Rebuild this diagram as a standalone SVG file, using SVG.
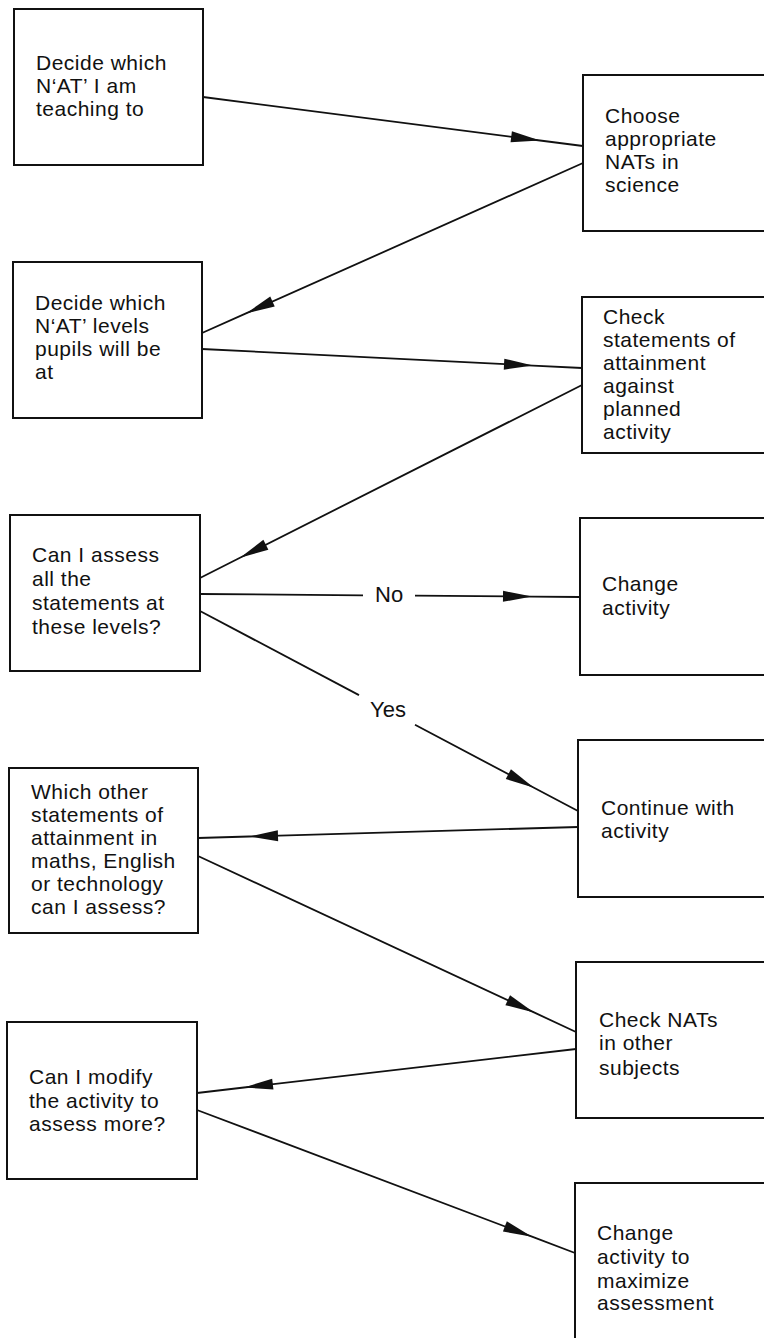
<svg xmlns="http://www.w3.org/2000/svg" width="764" height="1338" viewBox="0 0 764 1338">
<style>
.box{fill:#fff;stroke:#111;stroke-width:2}
.t{font-family:"Liberation Sans",Arial,Helvetica,sans-serif;font-size:21px;letter-spacing:0.5px;fill:#111}
.lbl{font-family:"Liberation Sans",Arial,Helvetica,sans-serif;font-size:22px;fill:#111}
.c{fill:none;stroke:#111;stroke-width:1.8}
</style>
<defs>
<marker id="ah" markerUnits="userSpaceOnUse" orient="auto" overflow="visible" refX="0" refY="0" markerWidth="1" markerHeight="1">
<path d="M0,0 L-29,-5.5 L-29,5.5 Z" fill="#111"/>
</marker>
</defs>
<rect width="764" height="1338" fill="#fff"/>

<g id="connectors">
<polyline class="c" points="203,97 540,140.5 583,146" marker-mid="url(#ah)"/>
<polyline class="c" points="583,163 246,313.4 202,333" marker-mid="url(#ah)"/>
<polyline class="c" points="202,349 533,365.6 582,368" marker-mid="url(#ah)"/>
<polyline class="c" points="582,385 240,557.8 200,578" marker-mid="url(#ah)"/>
<line class="c" x1="200" y1="594" x2="363" y2="595.3"/>
<polyline class="c" points="415,595.7 532,596.6 580,597" marker-mid="url(#ah)"/>
<text class="lbl" x="375" y="602">No</text>
<line class="c" x1="200" y1="611" x2="359" y2="695.1"/>
<polyline class="c" points="415,724.8 534,787.7 578,811" marker-mid="url(#ah)"/>
<text class="lbl" x="370" y="717">Yes</text>
<polyline class="c" points="578,827 249,836.5 198,838" marker-mid="url(#ah)"/>
<polyline class="c" points="198,856 534,1012.4 576,1032" marker-mid="url(#ah)"/>
<polyline class="c" points="576,1049 244,1087.5 197,1093" marker-mid="url(#ah)"/>
<polyline class="c" points="197,1110 532,1236.7 575,1253" marker-mid="url(#ah)"/>
</g>

<g id="n1"><rect class="box" x="14" y="9" width="189" height="156"/>
<text class="t" x="36" y="70">Decide which</text><text class="t" x="36" y="93">N‘AT’ I am</text><text class="t" x="36" y="116">teaching to</text></g>

<g id="n2"><rect class="box" x="583" y="75" width="200" height="156"/>
<text class="t" x="605" y="123">Choose</text><text class="t" x="605" y="146">appropriate</text><text class="t" x="605" y="169">NATs in</text><text class="t" x="605" y="192">science</text></g>

<g id="n3"><rect class="box" x="13" y="262" width="189" height="156"/>
<text class="t" x="35" y="310">Decide which</text><text class="t" x="35" y="333">N‘AT’ levels</text><text class="t" x="35" y="356">pupils will be</text><text class="t" x="35" y="379">at</text></g>

<g id="n4"><rect class="box" x="582" y="297" width="200" height="156"/>
<text class="t" x="603" y="324">Check</text><text class="t" x="603" y="347">statements of</text><text class="t" x="603" y="370">attainment</text><text class="t" x="603" y="393">against</text><text class="t" x="603" y="416">planned</text><text class="t" x="603" y="439">activity</text></g>

<g id="n5"><rect class="box" x="10" y="515" width="190" height="156"/>
<text class="t" x="32" y="562">Can I assess</text><text class="t" x="32" y="586">all the</text><text class="t" x="32" y="610">statements at</text><text class="t" x="32" y="634">these levels?</text></g>

<g id="n6"><rect class="box" x="580" y="518" width="200" height="157"/>
<text class="t" x="602" y="591">Change</text><text class="t" x="602" y="615">activity</text></g>

<g id="n7"><rect class="box" x="9" y="768" width="189" height="165"/>
<text class="t" x="31" y="799">Which other</text><text class="t" x="31" y="822">statements of</text><text class="t" x="31" y="845">attainment in</text><text class="t" x="31" y="868">maths, English</text><text class="t" x="31" y="891">or technology</text><text class="t" x="31" y="914">can I assess?</text></g>

<g id="n8"><rect class="box" x="578" y="740" width="200" height="157"/>
<text class="t" x="601" y="815">Continue with</text><text class="t" x="601" y="838">activity</text></g>

<g id="n9"><rect class="box" x="7" y="1022" width="190" height="157"/>
<text class="t" x="29" y="1084">Can I modify</text><text class="t" x="29" y="1108">the activity to</text><text class="t" x="29" y="1131">assess more?</text></g>

<g id="n10"><rect class="box" x="576" y="962" width="200" height="156"/>
<text class="t" x="599" y="1027">Check NATs</text><text class="t" x="599" y="1050">in other</text><text class="t" x="599" y="1075">subjects</text></g>

<g id="n11"><rect class="box" x="575" y="1183" width="200" height="170"/>
<text class="t" x="597" y="1240">Change</text><text class="t" x="597" y="1264">activity to</text><text class="t" x="597" y="1288">maximize</text><text class="t" x="597" y="1310">assessment</text></g>
</svg>
